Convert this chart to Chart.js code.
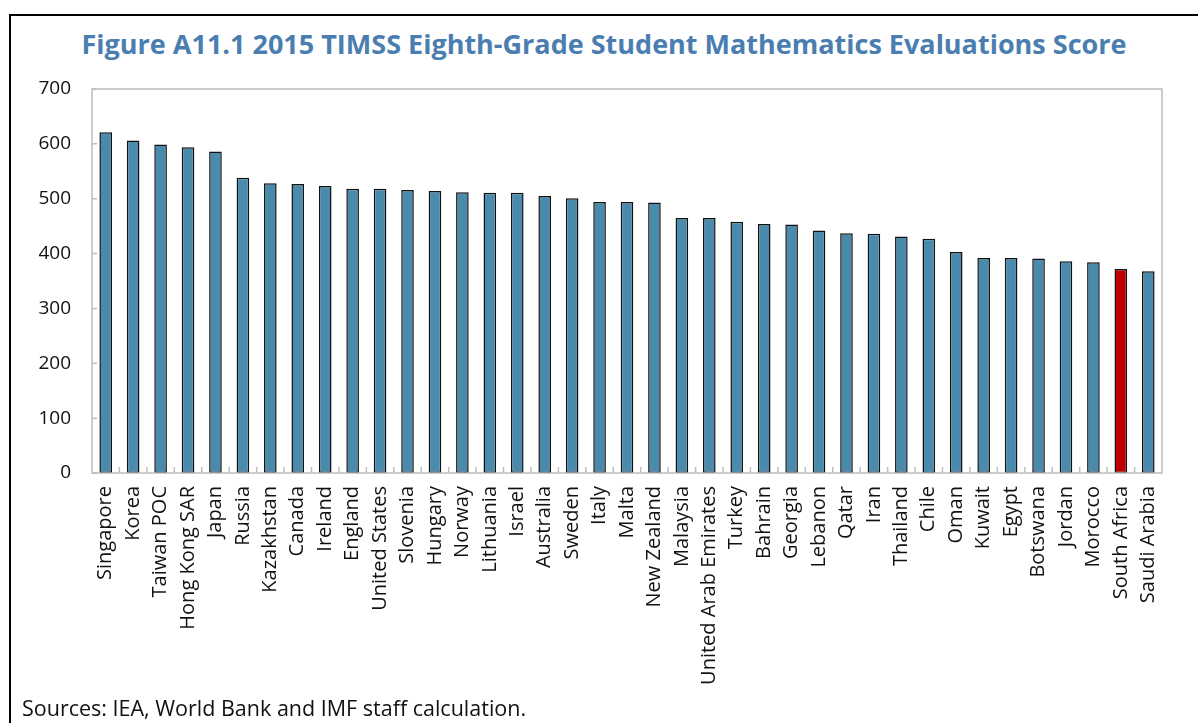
<!DOCTYPE html>
<html>
<head>
<meta charset="utf-8">
<script src="https://cdn.jsdelivr.net/npm/chart.js@4.4.1/dist/chart.umd.min.js"></script>
<style>
  html, body { margin: 0; padding: 0; background: #fff; }
  #wrap { position: relative; width: 1198px; height: 723px; overflow: hidden; }
  #frame { position: absolute; left: 9px; top: 14px; right: -10px; bottom: -10px;
           border-top: 2px solid #000; border-left: 2px solid #000; }
  #title { position: absolute; left: 10px; right: 0; top: 25px; text-align: center;
           font-family: "Open Sans", sans-serif; font-weight: bold; font-size: 27px;
           color: #4a7eb0; white-space: nowrap; }
  #source { position: absolute; left: 22px; top: 693px; font-family: "Open Sans", sans-serif;
            font-size: 21.5px; color: #111; white-space: nowrap; }
  canvas { position: absolute; left: 0; top: 0; }
</style>
</head>
<body>
<div id="wrap">
  <div id="frame"></div>
  <div id="title">Figure A11.1 2015 TIMSS Eighth-Grade Student Mathematics Evaluations Score</div>
  <canvas id="chart" width="1198" height="723"></canvas>
  <div id="source">Sources: IEA, World Bank and IMF staff calculation.</div>
</div>
<script>
const countries = ['Singapore', 'Korea', 'Taiwan POC', 'Hong Kong SAR', 'Japan', 'Russia', 'Kazakhstan',
    'Canada', 'Ireland', 'England', 'United States', 'Slovenia', 'Hungary', 'Norway', 'Lithuania',
    'Israel', 'Australia', 'Sweden', 'Italy', 'Malta', 'New Zealand', 'Malaysia', 'United Arab Emirates',
    'Turkey', 'Bahrain', 'Georgia', 'Lebanon', 'Qatar', 'Iran', 'Thailand', 'Chile', 'Oman', 'Kuwait',
    'Egypt', 'Botswana', 'Jordan', 'Morocco', 'South Africa', 'Saudi Arabia'];

const scores = [621, 606, 599, 594, 586, 538, 528, 527, 523, 518, 518, 516, 514, 512, 511,
    511, 505, 501, 494, 494, 493, 465, 465, 458, 454, 453, 442, 437, 436, 431, 427, 403, 392,
    392, 391, 386, 384, 372, 368];

const yTicks = [0, 100, 200, 300, 400, 500, 600, 700];
const highlight = 'South Africa';

const BAR = '#4a8aad';
const RED = '#c00000';
const AXIS = '#bdbdbd';

// gray box round the plot + short inward tick marks (Excel style)
const boxPlugin = {
    id: 'box',
    afterDraw(chart) {
        const { ctx, chartArea: a, scales } = chart;
        ctx.save();
        ctx.strokeStyle = AXIS;
        ctx.lineWidth = 1.5;
        ctx.strokeRect(a.left, a.top, a.right - a.left, a.bottom - a.top);
        ctx.beginPath();
        yTicks.forEach(v => {
            const y = scales.y.getPixelForValue(v);
            ctx.moveTo(a.left, y);
            ctx.lineTo(a.left + 5, y);
        });
        const step = (a.right - a.left) / countries.length;
        for (let i = 1; i < countries.length; i++) {
            const x = a.left + step * i;
            ctx.moveTo(x, a.bottom);
            ctx.lineTo(x, a.bottom - 6);
        }
        ctx.stroke();
        ctx.restore();
    }
};

new Chart(document.getElementById('chart'), {
    type: 'bar',
    data: {
        labels: countries,
        datasets: [{
            data: scores,
            backgroundColor: countries.map(c => c === highlight ? RED : BAR),
            borderColor: '#111',
            borderWidth: 1.5,
            borderSkipped: false,
            barPercentage: 0.46,
            categoryPercentage: 1
        }]
    },
    options: {
        responsive: false,
        animation: false,
        layout: { padding: { top: 89, right: 36, left: 0, bottom: 0 } },
        plugins: { legend: { display: false }, tooltip: { enabled: false }, title: { display: false } },
        scales: {
            x: {
                grid: { display: false, drawTicks: false },
                border: { display: false },
                ticks: {
                    autoSkip: false, maxRotation: 90, minRotation: 90, padding: 13,
                    color: '#111', font: { family: 'Open Sans', size: 20 }
                },
                afterFit: s => { s.height = 250; }
            },
            y: {
                min: 0, max: 700,
                afterBuildTicks: s => { s.ticks = yTicks.map(v => ({ value: v })); },
                grid: { display: false, drawTicks: false },
                border: { display: false },
                ticks: { padding: 21, color: '#111', font: { family: 'Open Sans', size: 19 } },
                afterFit: s => { s.width = 92; }
            }
        }
    },
    plugins: [boxPlugin]
});
</script>
</body>
</html>
